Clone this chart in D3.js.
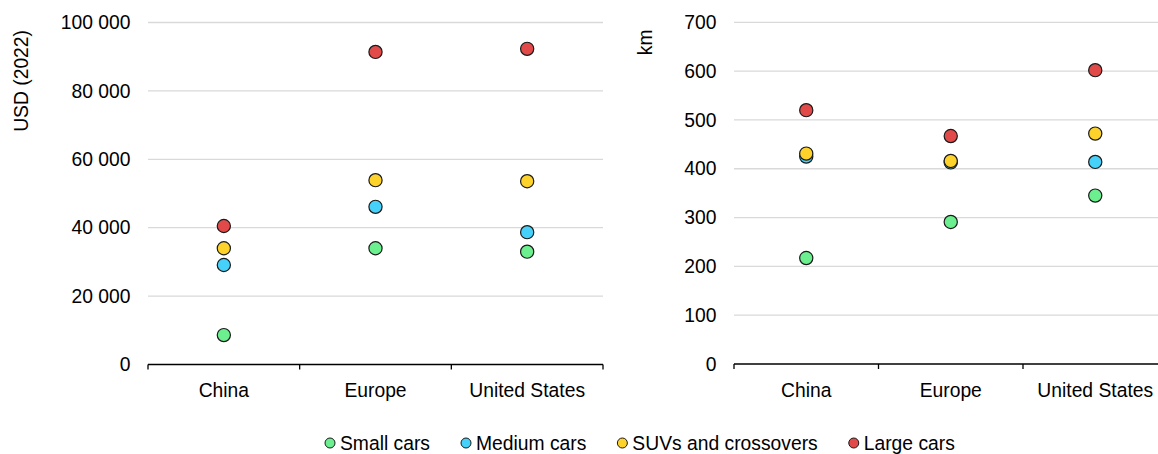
<!DOCTYPE html>
<html>
<head>
<meta charset="utf-8">
<script src="https://cdn.jsdelivr.net/npm/d3@7"></script>
<style>
  body { margin: 0; background: #fff; }
  svg { display: block; font-family: "Liberation Sans", Arial, sans-serif; }
</style>
</head>
<body>
<svg id="chart" width="1158" height="454"></svg>
<script>

// Categories and series
var countries = ["China", "Europe", "United States"];
var segments = ["Small cars", "Medium cars", "SUVs and crossovers", "Large cars"];
var segmentColors = ["#6cef8f", "#46d1fa", "#fdd22a", "#e24a4a"];

// Price, USD (2022)
var priceSmall  = [8600, 34000, 33000];
var priceMedium = [29100, 46100, 38700];
var priceSuv    = [34000, 53900, 53600];
var priceLarge  = [40500, 91400, 92300];

// Driving range, km
var rangeSmall  = [217, 291, 345];
var rangeMedium = [425, 413, 414];
var rangeSuv    = [431, 416, 472];
var rangeLarge  = [520, 467, 602];

var priceTicks = [0, 20000, 40000, 60000, 80000, 100000];
var rangeTicks = [0, 100, 200, 300, 400, 500, 600, 700];

var svg = d3.select("#chart");
var fontSize = "19.3px";

var fmt = d3.formatLocale({ decimal: ".", thousands: " ", grouping: [3], currency: ["", ""] }).format(",");

/*****************************/
// Draw one panel
/*****************************/
var drawPanel = function(opts) {

    var x = d3.scaleBand().domain(countries).range([opts.left, opts.right]);
    var y = d3.scaleLinear().domain([0, opts.max]).range([opts.bottom, opts.top]);

    var g = svg.append("g");

    // Gridlines
    g.selectAll(".grid")
        .data(opts.ticks.filter(function(d) { return d > 0; }))
        .enter().append("line")
        .attr("x1", opts.left)
        .attr("x2", opts.right)
        .attr("y1", function(d) { return y(d); })
        .attr("y2", function(d) { return y(d); })
        .attr("stroke", "#d9d9d9")
        .attr("stroke-width", 1.3);

    // Y tick labels
    g.selectAll(".ylab")
        .data(opts.ticks)
        .enter().append("text")
        .attr("x", opts.left - 17.5)
        .attr("y", function(d) { return y(d); })
        .attr("dy", "0.35em")
        .attr("text-anchor", "end")
        .attr("font-size", fontSize)
        .attr("fill", "#000")
        .text(function(d) { return opts.format(d); });

    // Y title
    g.append("text")
        .attr("transform", "translate(" + opts.titleX + "," + opts.titleY + ") rotate(-90)")
        .attr("text-anchor", "end")
        .attr("font-size", fontSize)
        .attr("fill", "#000")
        .text(opts.title);

    // X axis line + ticks at category boundaries
    g.append("line")
        .attr("x1", opts.left).attr("x2", opts.right)
        .attr("y1", y(0)).attr("y2", y(0))
        .attr("stroke", "#000").attr("stroke-width", 1.3);

    var bounds = countries.map(function(c) { return x(c); }).concat([x(countries[countries.length - 1]) + x.bandwidth()]);
    g.selectAll(".xtick")
        .data(bounds)
        .enter().append("line")
        .attr("x1", function(d) { return d; })
        .attr("x2", function(d) { return d; })
        .attr("y1", y(0))
        .attr("y2", y(0) + 5)
        .attr("stroke", "#000").attr("stroke-width", 1.3);

    // X labels
    g.selectAll(".xlab")
        .data(countries)
        .enter().append("text")
        .attr("x", function(d) { return x(d) + x.bandwidth() / 2; })
        .attr("y", y(0) + 32.5)
        .attr("text-anchor", "middle")
        .attr("font-size", fontSize)
        .attr("fill", "#000")
        .text(function(d) { return d; });

    // Dots, drawn series by series (small first, large on top)
    opts.series.forEach(function(vals, si) {
        g.selectAll(".dot" + si)
            .data(vals)
            .enter().append("circle")
            .attr("cx", function(d, i) { return x(countries[i]) + x.bandwidth() / 2; })
            .attr("cy", function(d) { return y(d); })
            .attr("r", 6.6)
            .attr("fill", segmentColors[si])
            .attr("stroke", "#1a1a1a")
            .attr("stroke-width", 1.2);
    });
};

drawPanel({
    left: 148, right: 603, top: 22.5, bottom: 364.5, max: 100000,
    ticks: priceTicks, format: fmt,
    title: "USD (2022)", titleX: 28, titleY: 30,
    series: [priceSmall, priceMedium, priceSuv, priceLarge]
});

drawPanel({
    left: 734, right: 1167.5, top: 22.3, bottom: 364, max: 700,
    ticks: rangeTicks, format: function(d) { return d; },
    title: "km", titleX: 652, titleY: 29.5,
    series: [rangeSmall, rangeMedium, rangeSuv, rangeLarge]
});

/*****************************/
// Legend
/*****************************/
var legend = svg.append("g");
var lx = 330;
segments.forEach(function(s, i) {
    legend.append("circle")
        .attr("cx", lx).attr("cy", 443)
        .attr("r", 5)
        .attr("fill", segmentColors[i])
        .attr("stroke", "#1a1a1a").attr("stroke-width", 1);
    var t = legend.append("text")
        .attr("x", lx + 10).attr("y", 450)
        .attr("font-size", fontSize)
        .attr("fill", "#000")
        .text(s);
    lx = lx + 10 + t.node().getComputedTextLength() + 36;
});

</script>
</body>
</html>
